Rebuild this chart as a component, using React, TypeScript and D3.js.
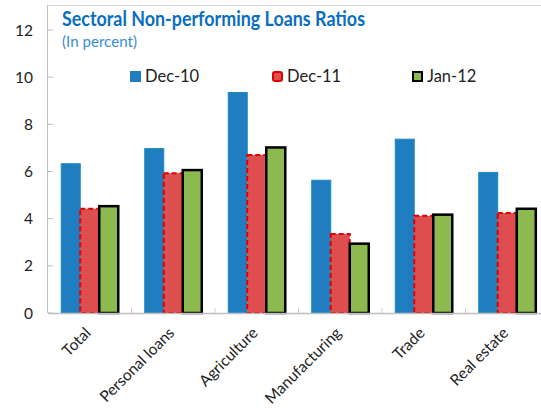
import React from "react";
import * as d3 from "d3";

const categories = ["Total", "Personal loans", "Agriculture", "Manufacturing", "Trade", "Real estate"];
const seriesNames = ["Dec-10", "Dec-11", "Jan-12"];
const dec10 = [6.33, 6.97, 9.35, 5.63, 7.37, 5.96];
const dec11 = [4.42, 5.93, 6.7, 3.35, 4.12, 4.24];
const jan12 = [4.53, 6.06, 7.02, 2.94, 4.17, 4.42];
const yTicks = [0, 2, 4, 6, 8, 10, 12];

const W = 541, H = 408;
const left = 48, bottom = 313, top = 30;
const FONT = "Lato, 'Open Sans', sans-serif";

const seriesStyle = [
  { fill: "#1F7DC0", stroke: "#1B8BBE", sw: 1, dash: "" },
  { fill: "#DE4E4E", stroke: "#E00000", sw: 2, dash: "5,3" },
  { fill: "#8CBA4F", stroke: "#000000", sw: 2.5, dash: "" },
];

export default function App() {
  const data = [dec10, dec11, jan12];
  const y = d3.scaleLinear().domain([0, 12]).range([bottom, top]);
  const x0 = d3.scaleBand<string>().domain(categories).range([left, left + 501]).paddingInner(0.317).paddingOuter(0.1585);
  const x1 = d3.scaleBand<string>().domain(seriesNames).range([0, x0.bandwidth()]).padding(0);
  const step = x0.step();
  const bw = x1.bandwidth();

  return (
    <svg width={W} height={H} style={{ position: "absolute", left: 0, top: 0, background: "#fff" }}>
      {/* frame */}
      <line x1={left} x2={W} y1={5.5} y2={5.5} stroke="#D9D9D9" strokeWidth={1} />
      <line x1={left - 0.5} x2={left - 0.5} y1={5} y2={bottom} stroke="#BFBFBF" strokeWidth={1} />
      {/* y ticks */}
      {yTicks.map((t) => (
        <g key={t}>
          <line x1={left} x2={left + 5} y1={y(t)} y2={y(t)} stroke="#BFBFBF" />
          <text x={33} y={y(t)} dy="0.36em" textAnchor="end" fontFamily={FONT} fontSize={15.5} fill="#222">
            {t}
          </text>
        </g>
      ))}
      {/* bars */}
      {categories.map((c, i) => (
        <g key={c} transform={`translate(${x0(c)},0)`}>
          {seriesNames.map((s, j) => {
            const st = seriesStyle[j];
            const v = data[j][i];
            return (
              <rect
                key={s}
                x={x1(s) as number}
                y={y(v)}
                width={bw}
                height={bottom - y(v)}
                fill={st.fill}
                stroke={st.stroke}
                strokeWidth={st.sw}
                strokeDasharray={st.dash || undefined}
              />
            );
          })}
        </g>
      ))}
      {/* x axis */}
      <line x1={left} x2={W} y1={bottom + 0.5} y2={bottom + 0.5} stroke="#BFBFBF" strokeWidth={1.5} />
      {categories.map((c, i) => (
        <line key={"t" + c} x1={left + (i + 1) * step} x2={left + (i + 1) * step} y1={bottom} y2={bottom - 5} stroke="#D0D0D0" />
      ))}
      {categories.map((c) => {
        const cx = (x0(c) as number) + x0.bandwidth() / 2;
        return (
          <text
            key={"l" + c}
            transform={`translate(${cx + 2},${bottom + 21}) rotate(-45)`}
            textAnchor="end"
            fontFamily={FONT}
            fontSize={15.5}
            fill="#222"
          >
            {c}
          </text>
        );
      })}
      {/* title */}
      <text x={62} y={26} fontFamily={FONT} fontSize={20} fontWeight="bold" fill="#0A6EC0" textLength={303} lengthAdjust="spacingAndGlyphs">
        Sectoral Non-performing Loans Ratios
      </text>
      <text x={62} y={47} fontFamily={FONT} fontSize={15} fill="#3A8ED6" textLength={75} lengthAdjust="spacingAndGlyphs">
        (In percent)
      </text>
      {/* legend */}
      {seriesNames.map((s, j) => {
        const lx = [130, 272, 412][j];
        const st = seriesStyle[j];
        return (
          <g key={"lg" + s}>
            <rect
              x={lx + (j ? 1 : 0)}
              y={71 + (j ? 1 : 0)}
              width={j ? 9 : 11}
              height={j ? 9 : 11}
              rx={j === 1 ? 2 : 0}
              fill={st.fill}
              stroke={j === 0 ? "none" : st.stroke}
              strokeWidth={2}
            />
            <text x={lx + 15} y={82} fontFamily={FONT} fontSize={16.5} fill="#222">
              {s}
            </text>
          </g>
        );
      })}
    </svg>
  );
}
